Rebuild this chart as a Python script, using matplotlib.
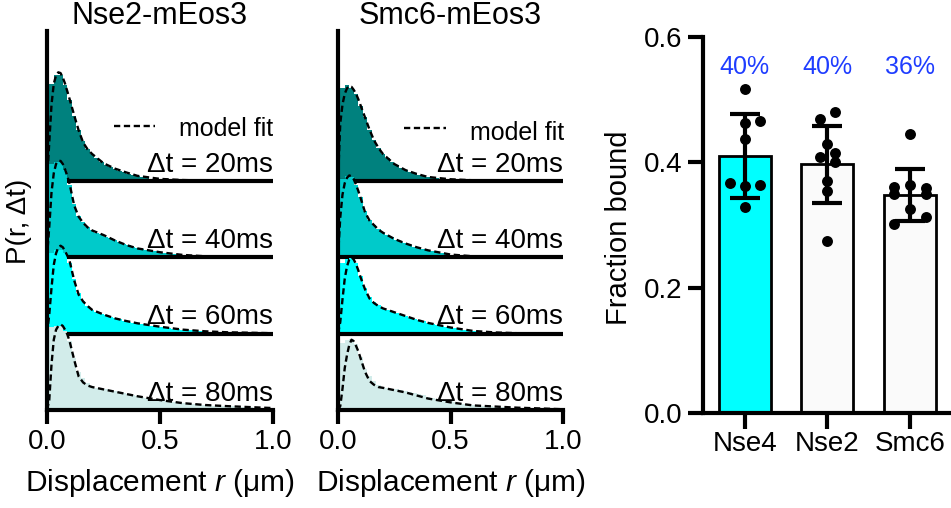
import numpy as np
import matplotlib
matplotlib.use("Agg")
import matplotlib.pyplot as plt

plt.rcParams['font.family'] = ['Liberation Sans', 'DejaVu Sans']
plt.rcParams['mathtext.fontset'] = 'custom'
plt.rcParams['mathtext.rm'] = 'Liberation Sans'
plt.rcParams['mathtext.it'] = 'Liberation Sans:italic'
plt.rcParams['lines.scale_dashes'] = False

# ---------------- data ----------------
delays = ["Δt = 20ms", "Δt = 40ms", "Δt = 60ms", "Δt = 80ms"]
bin_width = 0.02  # histogram bins centred at 0, 0.02, 0.04, ...

fit_r = [0, 0.01, 0.02, 0.03, 0.04, 0.05, 0.06, 0.07, 0.08, 0.09, 0.10, 0.12, 0.14,
         0.16, 0.18, 0.20, 0.25, 0.30, 0.35, 0.40, 0.50, 0.60, 0.70, 0.80, 1.0]

# Nse2-mEos3
nse2_hist_20 = [0.96, 1.27, 1.38, 1.38, 1.26, 1.06, 0.85, 0.67, 0.52, 0.42, 0.35, 0.30, 0.25, 0.21,
                0.18, 0.15, 0.13, 0.11, 0.095, 0.08, 0.065, 0.05, 0.04, 0.03, 0.025, 0.02, 0.015,
                0.012, 0.01, 0.008, 0.006, 0.005, 0.004, 0.003, 0.002, 0.002]
nse2_hist_40 = [1.17, 1.22, 1.24, 1.24, 1.14, 0.95, 0.70, 0.54, 0.46, 0.40, 0.35, 0.32, 0.30, 0.27,
                0.245, 0.22, 0.20, 0.175, 0.155, 0.135, 0.115, 0.105, 0.095, 0.085, 0.075, 0.065,
                0.058, 0.05, 0.044, 0.037, 0.03, 0.026, 0.022, 0.018, 0.015, 0.012]
nse2_hist_60 = [0.97, 1.05, 1.10, 1.10, 1.06, 0.93, 0.72, 0.53, 0.43, 0.36, 0.31, 0.285, 0.26, 0.24,
                0.22, 0.20, 0.185, 0.17, 0.155, 0.145, 0.135, 0.125, 0.115, 0.105, 0.097, 0.09,
                0.082, 0.074, 0.066, 0.059, 0.052, 0.047, 0.042, 0.037, 0.033, 0.03, 0.027, 0.024,
                0.021, 0.019, 0.017]
nse2_hist_80 = [1.05, 1.08, 1.10, 1.10, 1.03, 0.90, 0.68, 0.50, 0.42, 0.35, 0.31, 0.29, 0.28, 0.27,
                0.26, 0.245, 0.235, 0.22, 0.21, 0.195, 0.18, 0.17, 0.16, 0.15, 0.14, 0.13, 0.122,
                0.114, 0.106, 0.098, 0.09, 0.085, 0.08, 0.075, 0.07, 0.065, 0.062, 0.058, 0.055,
                0.052, 0.05, 0.047, 0.044, 0.041, 0.038, 0.035, 0.032, 0.03, 0.028, 0.026, 0.025]
nse2_fit_20 = [0, 0.5, 1.0, 1.27, 1.38, 1.42, 1.41, 1.35, 1.27, 1.17, 1.07, 0.86, 0.66, 0.50, 0.41,
               0.35, 0.23, 0.16, 0.11, 0.065, 0.025, 0.01, 0.003, 0.001, 0]
nse2_fit_40 = [0, 0.4, 0.85, 1.1, 1.22, 1.26, 1.26, 1.22, 1.15, 1.06, 0.96, 0.68, 0.53, 0.45, 0.39,
               0.35, 0.29, 0.22, 0.16, 0.115, 0.065, 0.03, 0.012, 0.005, 0]
nse2_fit_60 = [0, 0.25, 0.6, 0.9, 1.05, 1.13, 1.15, 1.13, 1.08, 1.02, 0.95, 0.70, 0.51, 0.42, 0.36,
               0.31, 0.25, 0.20, 0.165, 0.135, 0.09, 0.052, 0.03, 0.017, 0.005]
nse2_fit_80 = [0, 0.13, 0.6, 0.92, 1.05, 1.10, 1.12, 1.10, 1.05, 0.99, 0.90, 0.66, 0.44, 0.36, 0.32,
               0.30, 0.27, 0.24, 0.21, 0.18, 0.13, 0.09, 0.065, 0.05, 0.025]

# Smc6-mEos3
smc6_hist_20 = [1.18, 1.22, 1.25, 1.22, 1.13, 0.98, 0.83, 0.67, 0.53, 0.43, 0.35, 0.30, 0.25, 0.21,
                0.17, 0.14, 0.12, 0.10, 0.08, 0.065, 0.05, 0.042, 0.035, 0.028, 0.023, 0.02, 0.015,
                0.012, 0.009, 0.007, 0.005]
smc6_hist_40 = [0.89, 1.02, 1.06, 1.05, 0.95, 0.79, 0.60, 0.49, 0.42, 0.37, 0.32, 0.29, 0.26, 0.23,
                0.205, 0.18, 0.16, 0.14, 0.12, 0.105, 0.09, 0.078, 0.066, 0.055, 0.045, 0.035, 0.03,
                0.025, 0.02, 0.016, 0.012, 0.009, 0.007, 0.005]
smc6_hist_60 = [0.84, 0.92, 0.98, 0.99, 0.92, 0.76, 0.60, 0.48, 0.41, 0.37, 0.33, 0.31, 0.29, 0.27,
                0.25, 0.23, 0.21, 0.19, 0.175, 0.16, 0.14, 0.128, 0.116, 0.104, 0.092, 0.08, 0.07,
                0.06, 0.05, 0.042, 0.035, 0.03, 0.025, 0.021, 0.018, 0.015]
smc6_hist_80 = [0.85, 0.88, 0.92, 0.93, 0.86, 0.70, 0.54, 0.45, 0.38, 0.33, 0.30, 0.29, 0.28, 0.27,
                0.26, 0.25, 0.235, 0.22, 0.205, 0.19, 0.175, 0.16, 0.148, 0.136, 0.124, 0.112, 0.1,
                0.092, 0.084, 0.076, 0.068, 0.062, 0.056, 0.051, 0.047, 0.044, 0.041, 0.038, 0.035,
                0.032, 0.03, 0.027, 0.025, 0.023, 0.021, 0.019, 0.017, 0.015, 0.013, 0.012, 0.01]
smc6_fit_20 = [0, 0.75, 1.0, 1.14, 1.21, 1.24, 1.23, 1.19, 1.14, 1.07, 0.99, 0.83, 0.67, 0.53, 0.43,
               0.35, 0.22, 0.14, 0.09, 0.05, 0.02, 0.007, 0.002, 0, 0]
smc6_fit_40 = [0, 0.52, 0.82, 0.97, 1.04, 1.07, 1.06, 1.02, 0.95, 0.87, 0.78, 0.59, 0.48, 0.42, 0.36,
               0.32, 0.24, 0.18, 0.13, 0.09, 0.035, 0.012, 0.004, 0, 0]
smc6_fit_60 = [0, 0.15, 0.45, 0.72, 0.88, 0.97, 1.0, 0.97, 0.91, 0.83, 0.74, 0.58, 0.46, 0.40, 0.36,
               0.33, 0.28, 0.23, 0.18, 0.14, 0.08, 0.035, 0.015, 0.005, 0]
smc6_fit_80 = [0, 0.05, 0.28, 0.55, 0.72, 0.85, 0.92, 0.90, 0.84, 0.77, 0.68, 0.50, 0.38, 0.33, 0.30,
               0.29, 0.26, 0.23, 0.19, 0.15, 0.10, 0.06, 0.045, 0.03, 0.01]

# Fraction bound
proteins = ["Nse4", "Nse2", "Smc6"]
frac_mean = [0.410, 0.397, 0.348]
frac_sd = [0.067, 0.062, 0.042]
frac_label = ["40%", "40%", "36%"]
nse4_pts = [0.518, 0.463, 0.466, 0.437, 0.367, 0.362, 0.364, 0.328]
nse2_pts = [0.469, 0.480, 0.429, 0.408, 0.415, 0.400, 0.370, 0.354, 0.275]
smc6_pts = [0.445, 0.361, 0.364, 0.359, 0.350, 0.349, 0.326, 0.312, 0.301]

# ---------------- figure ----------------
W, H = 951, 508
fig = plt.figure(figsize=(W / 100, H / 100), dpi=100)

row_colors = ["#00817E", "#00CACA", "#00FFFF", "#D2ECEA"]
row_unit_px = 76.4
dash_style = (0, (4.5, 2.6))


def px_box(l, t, r, b):
    return [l / W, (H - b) / H, (r - l) / W, (b - t) / H]


def hist_panel(box, title, hists, fits, leg_y, text_y):
    ax = fig.add_axes(box)
    top = (box[3] * H) / row_unit_px
    ax.set_xlim(0, 1.0)
    ax.set_ylim(0, top)
    n = len(hists)
    for i in range(n):
        off = n - 1 - i
        z = 2 + 3 * i
        vals = np.asarray(hists[i])
        edges = np.arange(len(vals) + 1) * bin_width - bin_width / 2
        ax.stairs(vals + off, edges, baseline=off, fill=True, color=row_colors[i],
                  lw=0, zorder=z, clip_on=False)
        ax.plot(fit_r, np.asarray(fits[i]) + off, color='k', lw=1.7, ls=dash_style,
                zorder=z + 1)
        if off > 0:
            ax.plot([0, 1.0], [off, off], color='k', lw=3, zorder=z + 0.5,
                    solid_capstyle='projecting')
        ax.text(1.0, off + 0.12, delays[i], ha='right', va='baseline', fontsize=20, zorder=30)
    ax.plot([0.295, 0.48], [leg_y, leg_y], color='k', lw=1.7, ls=dash_style)
    ax.text(0.585, text_y, "model fit", fontsize=18, va='baseline', ha='left')
    for s in ['top', 'right']:
        ax.spines[s].set_visible(False)
    for s in ['left', 'bottom']:
        ax.spines[s].set_linewidth(3)
        ax.spines[s].set_zorder(40)
    ax.set_yticks([])
    ax.set_xticks([0, 0.5, 1.0])
    ax.set_xticklabels(["0.0", "0.5", "1.0"])
    ax.tick_params(axis='x', direction='out', length=10, width=3, labelsize=20, pad=4)
    ax.set_title(title, fontsize=22, pad=3)
    ax.set_xlabel(r"Displacement $\mathit{r}$ (μm)", fontsize=21.5, labelpad=8)
    return ax


ax1 = hist_panel(px_box(47, 31, 273, 410), "Nse2-mEos3",
                 [nse2_hist_20, nse2_hist_40, nse2_hist_60, nse2_hist_80],
                 [nse2_fit_20, nse2_fit_40, nse2_fit_60, nse2_fit_80], 3.72, 3.58)
ax2 = hist_panel(px_box(338, 31, 563, 410), "Smc6-mEos3",
                 [smc6_hist_20, smc6_hist_40, smc6_hist_60, smc6_hist_80],
                 [smc6_fit_20, smc6_fit_40, smc6_fit_60, smc6_fit_80], 3.69, 3.53)

fig.text(19 / W, 1 - 221 / H, "P(r, Δt)", rotation=90, ha='center', va='center', fontsize=20)

# bar chart
ax3 = fig.add_axes(px_box(703.3, 37.3, 951.3, 412.7))
x = np.arange(len(proteins))
ax3.bar(x, frac_mean, width=0.63, color=["#00FFFF", "#FAFAFA", "#FAFAFA"],
        edgecolor='k', linewidth=2, zorder=2)
ax3.errorbar(x, frac_mean, yerr=frac_sd, fmt='none', ecolor='k', elinewidth=3,
             capsize=11, capthick=3, zorder=3)
jitter = [
    [0, 0, 0.18, 0, -0.18, 0, 0.18, 0],
    [-0.09, 0.09, 0, -0.09, 0.09, 0.09, 0, 0, 0],
    [0, -0.19, 0, 0.19, -0.19, 0.19, 0, 0.19, -0.19],
]
for i, pts in enumerate([nse4_pts, nse2_pts, smc6_pts]):
    ax3.scatter(x[i] + np.asarray(jitter[i]), pts, s=62, color='k', zorder=4,
                linewidths=0)
    ax3.text(x[i], 0.553, frac_label[i], ha='center', va='center', fontsize=18,
             color='#1F3DFF')
ax3.set_xlim(-0.5, 2.5)
ax3.set_ylim(0, 0.6)
ax3.set_yticks([0, 0.2, 0.4, 0.6])
ax3.set_yticklabels(["0.0", "0.2", "0.4", "0.6"])
ax3.set_xticks(x)
ax3.set_xticklabels(proteins)
for s in ['top', 'right']:
    ax3.spines[s].set_visible(False)
for s in ['left', 'bottom']:
    ax3.spines[s].set_linewidth(3)
    ax3.spines[s].set_zorder(10)
ax3.tick_params(axis='y', direction='out', length=11, width=3, labelsize=20, pad=4)
ax3.tick_params(axis='x', direction='out', length=11.5, width=3, labelsize=20, pad=2)
fig.text(619 / W, 1 - 228 / H, "Fraction bound", rotation=90, ha='center', va='center',
         fontsize=21)

fig.savefig("out.png", dpi=100)
